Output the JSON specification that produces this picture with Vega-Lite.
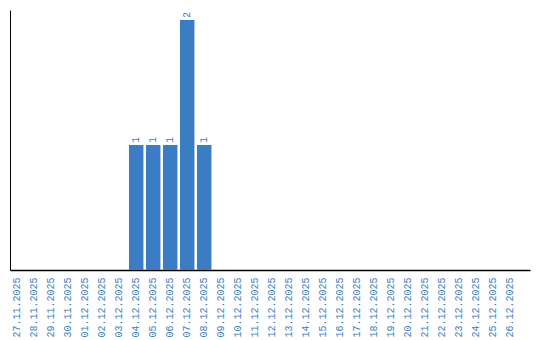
{
  "$schema": "https://vega.github.io/schema/vega-lite/v6.json",
  "width": 520,
  "height": 260,
  "autosize": {"type": "none"},
  "padding": {"left": 10, "top": 10, "right": 10, "bottom": 70},
  "background": "white",
  "config": {"view": {"stroke": null}, "font": "Liberation Mono"},
  "data": {"values": [
    {"date": "27.11.2025", "count": 0},
    {"date": "28.11.2025", "count": 0},
    {"date": "29.11.2025", "count": 0},
    {"date": "30.11.2025", "count": 0},
    {"date": "01.12.2025", "count": 0},
    {"date": "02.12.2025", "count": 0},
    {"date": "03.12.2025", "count": 0},
    {"date": "04.12.2025", "count": 1},
    {"date": "05.12.2025", "count": 1},
    {"date": "06.12.2025", "count": 1},
    {"date": "07.12.2025", "count": 2},
    {"date": "08.12.2025", "count": 1},
    {"date": "09.12.2025", "count": 0},
    {"date": "10.12.2025", "count": 0},
    {"date": "11.12.2025", "count": 0},
    {"date": "12.12.2025", "count": 0},
    {"date": "13.12.2025", "count": 0},
    {"date": "14.12.2025", "count": 0},
    {"date": "15.12.2025", "count": 0},
    {"date": "16.12.2025", "count": 0},
    {"date": "17.12.2025", "count": 0},
    {"date": "18.12.2025", "count": 0},
    {"date": "19.12.2025", "count": 0},
    {"date": "20.12.2025", "count": 0},
    {"date": "21.12.2025", "count": 0},
    {"date": "22.12.2025", "count": 0},
    {"date": "23.12.2025", "count": 0},
    {"date": "24.12.2025", "count": 0},
    {"date": "25.12.2025", "count": 0},
    {"date": "26.12.2025", "count": 0}
  ]},
  "encoding": {
    "x": {
      "field": "date", "type": "ordinal", "sort": null,
      "scale": {"paddingInner": 0.15, "paddingOuter": 0.37, "align": 0},
      "axis": {
        "title": null, "ticks": false, "labelAngle": -90, "labelFontSize": 10,
        "labelColor": "#3a7dc2", "labelPadding": 7, "domainColor": "#000000",
        "domainWidth": 1.5, "labelFont": "Liberation Mono"
      }
    },
    "y": {
      "field": "count", "type": "quantitative",
      "scale": {"domain": [0, 2.08], "nice": false},
      "axis": {"title": null, "ticks": false, "labels": false, "grid": false, "domainColor": "#000000", "domainWidth": 1}
    }
  },
  "layer": [
    {"mark": {"type": "bar", "color": "#3a7dc2"}},
    {
      "transform": [{"filter": "datum.count > 0"}],
      "mark": {"type": "text", "angle": -90, "align": "left", "baseline": "middle", "dx": 2, "fontSize": 10, "color": "#3a7dc2", "font": "Liberation Mono"},
      "encoding": {"text": {"field": "count", "type": "quantitative"}}
    }
  ]
}
